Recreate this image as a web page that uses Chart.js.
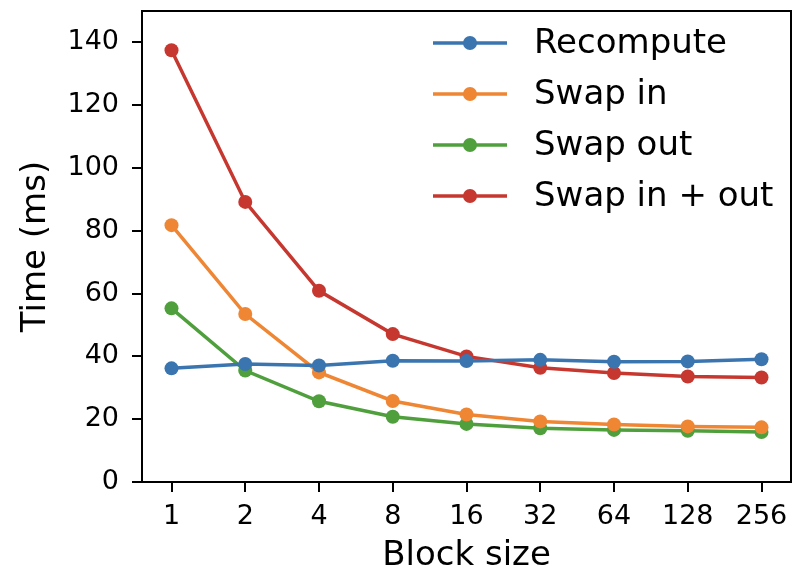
<!DOCTYPE html>
<html>
<head>
<meta charset="utf-8">
<script src="https://cdn.jsdelivr.net/npm/chart.js@4/dist/chart.umd.min.js"></script>
<style>
  html, body { margin: 0; padding: 0; background: #fff; }
  #wrap { width: 799px; height: 572px; }
</style>
</head>
<body>
<div id="wrap"><canvas id="dataChart" width="799" height="572"></canvas></div>
<script>
// block sizes on the x axis
const blockSizes = ['1', '2', '4', '8', '16', '32', '64', '128', '256'];
const yTicks = [0, 20, 40, 60, 80, 100, 120, 140];

const recompute = [36.2, 37.6, 37.1, 38.6, 38.5, 38.9, 38.3, 38.4, 39.1];
const swapIn = [81.8, 53.5, 34.9, 25.8, 21.5, 19.3, 18.3, 17.7, 17.4];
const swapOut = [55.3, 35.5, 25.7, 20.8, 18.5, 17.1, 16.6, 16.3, 15.9];
const swapInOut = [137.5, 89.2, 60.9, 47.1, 40.0, 36.4, 34.7, 33.6, 33.3];

const FONT = "'DejaVu Sans', sans-serif";
const LINE_W = 3.5;
const POINT_R = 7;

function toPoints(values) {
  return values.map((v, i) => ({ x: i, y: v }));
}

function series(label, values, color) {
  return {
    label: label,
    data: toPoints(values),
    borderColor: color,
    backgroundColor: color,
    borderWidth: LINE_W,
    pointRadius: POINT_R,
    pointHoverRadius: POINT_R,
    pointBorderWidth: 0,
    tension: 0
  };
}

// black frame around the plot area (matplotlib style box)
const frame = {
  id: 'frame',
  afterDraw(chart) {
    const { ctx, chartArea: a } = chart;
    ctx.save();
    ctx.strokeStyle = '#000';
    ctx.lineWidth = 2;
    ctx.strokeRect(a.left, a.top, a.right - a.left, a.bottom - a.top);
    ctx.restore();
  }
};

// legend in the upper right corner, line + marker like matplotlib
const cornerLegend = {
  id: 'cornerLegend',
  afterDatasetsDraw(chart) {
    const { ctx, chartArea: a } = chart;
    ctx.save();
    ctx.font = '34px ' + FONT;
    ctx.textBaseline = 'middle';
    chart.data.datasets.forEach((ds, i) => {
      const y = a.top + 32 + i * 51;
      const x0 = a.right - 358;
      ctx.strokeStyle = ds.borderColor;
      ctx.lineWidth = LINE_W;
      ctx.beginPath();
      ctx.moveTo(x0, y);
      ctx.lineTo(x0 + 74, y);
      ctx.stroke();
      ctx.fillStyle = ds.borderColor;
      ctx.beginPath();
      ctx.arc(x0 + 37, y, POINT_R, 0, Math.PI * 2);
      ctx.fill();
      ctx.fillStyle = '#000';
      ctx.fillText(ds.label, a.right - 257, y + 1);
    });
    ctx.restore();
  }
};

const ctx = document.getElementById('dataChart').getContext('2d');
const chart = new Chart(ctx, {
  type: 'line',
  data: {
    datasets: [
      series('Recompute', recompute, '#3a75b0'),
      series('Swap in', swapIn, '#ee8634'),
      series('Swap out', swapOut, '#4f9f3d'),
      series('Swap in + out', swapInOut, '#c6382f')
    ]
  },
  options: {
    responsive: false,
    animation: false,
    layout: { padding: { top: 11, right: 8, left: 0, bottom: 0 } },
    plugins: {
      legend: { display: false },
      tooltip: { enabled: false }
    },
    scales: {
      x: {
        type: 'linear',
        min: -0.4,
        max: 8.4,
        afterBuildTicks(axis) {
          axis.ticks = blockSizes.map((_, i) => ({ value: i }));
        },
        afterFit(axis) {
          axis.height = 90;
          axis.paddingLeft = 0;
          axis.paddingRight = 0;
        },
        title: {
          display: true,
          text: 'Block size',
          color: '#000',
          font: { family: FONT, size: 34 },
          padding: { top: 0, bottom: -5 }
        },
        ticks: {
          color: '#000',
          font: { family: FONT, size: 27 },
          maxRotation: 0,
          autoSkip: false,
          padding: 9,
          callback: (v) => blockSizes[v]
        },
        grid: {
          drawOnChartArea: false,
          color: '#000',
          lineWidth: 2,
          tickLength: 10
        },
        border: { color: '#000', width: 2 }
      },
      y: {
        min: 0,
        max: 150,
        afterBuildTicks(axis) {
          axis.ticks = yTicks.map(v => ({ value: v }));
        },
        afterFit(axis) {
          axis.width = 142;
          axis.paddingTop = 0;
          axis.paddingBottom = 0;
        },
        title: {
          display: true,
          text: 'Time (ms)',
          color: '#000',
          font: { family: FONT, size: 34 },
          padding: { top: 16, bottom: 0 }
        },
        ticks: {
          color: '#000',
          font: { family: FONT, size: 27 },
          padding: 13
        },
        grid: {
          drawOnChartArea: false,
          color: '#000',
          lineWidth: 2,
          tickLength: 10
        },
        border: { color: '#000', width: 2 }
      }
    }
  },
  plugins: [frame, cornerLegend]
});
</script>
</body>
</html>
